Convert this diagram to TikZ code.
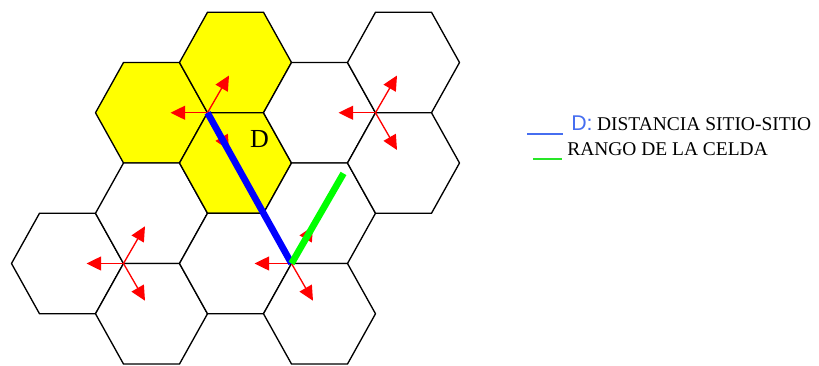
\documentclass[tikz,border=0pt]{standalone}
\usepackage{fontspec}
\setmainfont{Liberation Serif}
\newfontfamily\arialfont{Liberation Sans}
\usetikzlibrary{calc}
\usetikzlibrary{arrows.meta}
\usetikzlibrary{positioning}

\definecolor{azulley}{RGB}{70,110,240}
\definecolor{verdeley}{RGB}{40,230,40}
\definecolor{amarillo}{RGB}{255,255,0}

\begin{document}
\begin{tikzpicture}[x=0.75pt,y=-0.75pt,
        celda/.style={draw=black,line width=1pt,line join=round},
        flecha/.style={draw=red,line width=1pt,-{Triangle[length=11pt,width=10.5pt]}},
        linead/.style={draw=blue,line width=5pt},
        linear/.style={draw=green,line width=5pt},
        textoley/.style={inner sep=0pt,font=\fontsize{14.6}{16}\selectfont}
    ]
    \useasboundingbox (0,0) rectangle (819,365);

    % Celdas
    \foreach \cx/\cy/\col in {67.5/263.5/white,
            151.5/112.75/amarillo, 151.5/213.25/white, 151.5/313.75/white,
            235.5/62.5/amarillo, 235.5/163/amarillo, 235.5/263.5/white,
            319.5/112.75/white, 319.5/213.25/white, 319.5/313.75/white,
            403.5/62.5/white, 403.5/163/white}{
        \filldraw[celda,fill=\col] (\cx,\cy) ++(-56,0) -- ++(28,-50.25) -- ++(56,0)
            -- ++(28,50.25) -- ++(-28,50.25) -- ++(-56,0) -- cycle;
    }

    % Sitios
    \coordinate (s1) at (207.5,112.75);
    \coordinate (s2) at (375.5,112.75);
    \coordinate (s3) at (123.5,263.5);
    \coordinate (s4) at (291.5,263.5);

    \foreach \s in {s1,s2,s3,s4}{
        \coordinate (\s-izq) at ($(\s)+(180:37)$);
        \coordinate (\s-arr) at ($(\s)+(-60:43)$);
        \coordinate (\s-aba) at ($(\s)+(60:43)$);
        \draw[flecha] (\s) -- (\s-izq);
        \draw[flecha] (\s) -- (\s-arr);
        \draw[flecha] (\s) -- (\s-aba);
    }

    % Distancia y rango
    \coordinate (rango) at ($(s4)+(-60:104)$);
    \draw[linead] (s1) -- (s4);
    \draw[linear] (s4) -- (rango);
    \node[font=\fontsize{19.5}{22}\selectfont] (etiqd) at (259.5,139) {D};

    % Leyenda
    \coordinate (ld1) at (527,134);
    \coordinate (ld2) at (563,134);
    \coordinate (lr1) at (533,159);
    \coordinate (lr2) at (562,159);
    \draw[azulley,line width=0.8pt] (ld1) -- (ld2);
    \draw[verdeley,line width=0.8pt] (lr1) -- (lr2);
    \node[inner sep=0pt,anchor=base west,text=azulley,
        font=\arialfont\fontsize{16}{18}\selectfont] (dpuntos) at (571,130) {D:};
    \node[textoley,anchor=base west] (distancia) at ([xshift=3pt]dpuntos.base east)
        {DISTANCIA SITIO-SITIO};
    \node[textoley,anchor=base west] (rangotxt) at (567,155) {RANGO DE LA CELDA};
\end{tikzpicture}
\end{document}
